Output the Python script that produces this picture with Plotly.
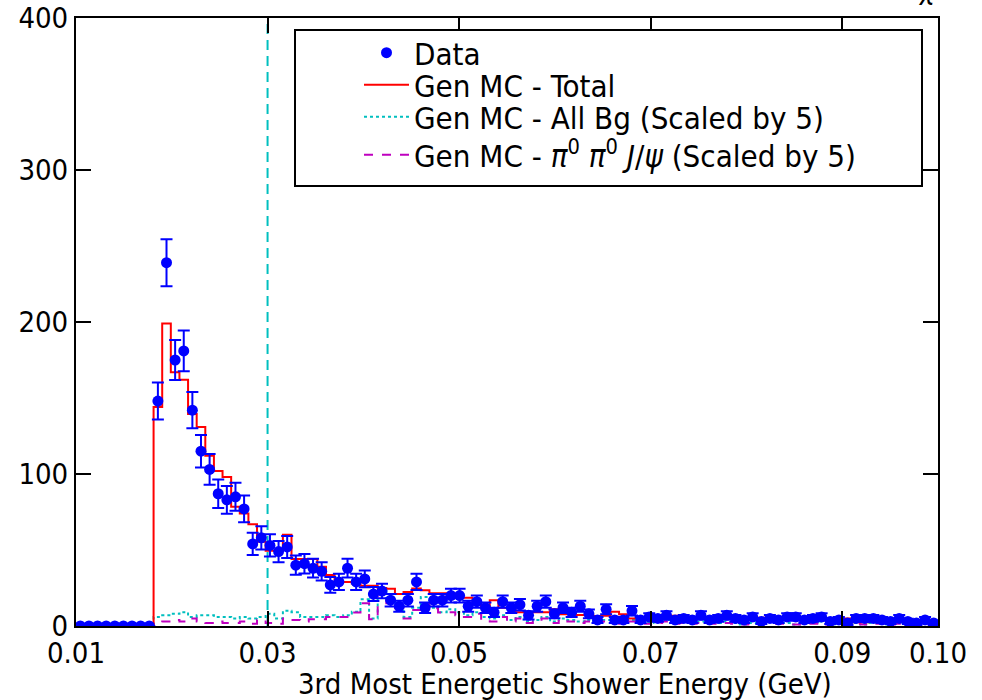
import numpy as np
import plotly.graph_objects as go

# Binning of the shower-energy histograms (GeV)
x_min, x_max, n_bins = 0.01, 0.10, 100
edges = np.linspace(x_min, x_max, n_bins + 1)
centers = 0.5 * (edges[:-1] + edges[1:])

# Observed counts per bin
data_counts = [
    0, 0, 0, 0, 0, 0, 0, 0, 0,
    148, 239, 175, 181, 142, 115, 103, 87, 83, 85, 77,
    54, 58, 53, 49, 52, 40, 41, 38, 36, 27,
    29, 38, 29, 31, 21, 23, 17, 13, 17, 29,
    12, 17, 17, 20, 20, 13, 16, 12, 9, 16,
    12, 14, 7, 13, 16, 8, 12, 9, 13, 8,
    4, 11, 4, 4, 10, 4, 6, 5, 7, 4,
    5, 4, 7, 4, 5, 7, 5, 4, 6, 3,
    5, 4, 6, 6, 4, 5, 6, 3, 4, 2,
    5, 5, 5, 4, 3, 5, 3, 2, 4, 2,
]

# Generic MC, total
mc_total = [
    0, 0, 0, 0, 0, 0, 0, 0, 0,
    144, 199, 167, 162, 139.5, 131, 112, 102, 98, 78.5, 74,
    67, 55.5, 49.5, 49.5, 60, 44, 44, 44, 39, 33.5,
    29, 29, 28, 26.5, 26.5, 25, 24.5, 21, 22.4, 24.6,
    23.5, 21.5, 21.5, 18.6, 18.6, 18.6, 14.3, 13, 17, 12,
    12, 9, 9, 9, 9, 11, 7.7, 9, 7.2, 7.2,
    6.6, 6.8, 9.4, 7.7, 5, 5.7, 5.7, 5.7, 6.8, 6.8,
    4.4, 5.5, 5.5, 5, 5.7, 5.7, 5, 5, 5, 5.5,
    4.4, 4.4, 4, 4, 4, 3.3, 4, 2.9, 2.9, 5,
    2.4, 2.4, 3.3, 3.3, 2.9, 2.9, 3.3, 2.4, 3.5, 2.4,
]

# Generic MC, all background (x5)
mc_all_bg = [
    0, 0, 0, 0, 0, 0, 0, 0, 0,
    6, 7, 8, 9, 6, 7, 7, 6, 6, 5, 6,
    5, 6, 8, 5, 10, 9, 6, 6, 6, 7,
    6, 7, 9.4, 17.6, 5, 23, 18, 13, 6, 12,
    19, 12, 9, 11, 9, 7, 9, 6, 5, 7,
    4, 6, 3, 4, 6, 3, 5, 4, 3, 4,
    3, 4, 3, 2, 4, 3, 2, 3, 4, 2,
    3, 2, 3, 2, 2, 3, 2, 1, 2, 2,
    3, 2, 2, 1, 2, 2, 3, 1, 2, 1,
    2, 1, 2, 2, 1, 2, 1, 1, 2, 1,
]

# Generic MC, pi0 pi0 J/psi component (x5)
mc_pi0pi0jpsi = [
    0, 0, 0, 0, 0, 0, 0, 0, 0,
    1.5, 3, 4, 3, 5, 3, 2, 3, 2, 2, 3,
    1.5, 4, 2, 1.5, 5, 4, 3, 4.4, 4.4, 6,
    6, 6, 8.8, 15, 4.4, 21.5, 15, 11.6, 5, 10.5,
    15, 11.6, 8.8, 9, 7, 6, 8, 4, 3, 6,
    3, 5, 2, 3, 5, 2, 4, 3, 2, 3,
    2, 3, 2, 1.5, 3, 2, 1.5, 2, 3, 1.5,
    2, 1.5, 2, 1.5, 1.5, 2, 1.5, 1, 1.5, 1.5,
    2, 1.5, 1.5, 1, 1.5, 1.5, 2, 1, 1.5, 1,
    1.5, 1, 1.5, 1.5, 1, 1.5, 1, 1, 1.5, 1,
]

x_tick_vals = [0.01, 0.03, 0.05, 0.07, 0.09, 0.10]
x_tick_text = ["0.01", "0.03", "0.05", "0.07", "0.09", "0.10"]
y_tick_vals = [0, 100, 200, 300, 400]
cut_value = 0.03
x_title = "3rd Most Energetic Shower Energy (GeV)"

FONT = "DejaVu Sans Condensed, DejaVu Sans"
W, H = 982, 700
ML, MR, MT, MB = 76, 44, 18, 74
pw, ph = W - ML - MR, H - MT - MB


def px_x(p):
    return (p - ML) / pw


def px_y(p):
    return (H - MB - p) / ph


def step(values):
    """Close a per-bin list so it can be drawn as a step line over bin edges."""
    return list(values) + [values[-1]]


fig = go.Figure()

fig.add_trace(go.Scatter(
    x=edges, y=step(mc_all_bg), mode="lines", line_shape="hv",
    line=dict(color="#00BFBF", width=2, dash="dot"),
    name="Gen MC - All Bg (Scaled by 5)", legend="legend3",
))
fig.add_trace(go.Scatter(
    x=edges, y=step(mc_pi0pi0jpsi), mode="lines", line_shape="hv",
    line=dict(color="#BF00BF", width=2, dash="dash"),
    name="Gen MC - <i>π</i><sup>0</sup> <i>π</i><sup>0</sup> <i>J</i>/<i>ψ</i> (Scaled by 5)",
    legend="legend4",
))
fig.add_trace(go.Scatter(
    x=edges, y=step(mc_total), mode="lines", line_shape="hv",
    line=dict(color="red", width=2),
    name="Gen MC - Total", legend="legend2",
))
fig.add_trace(go.Scatter(
    x=centers, y=data_counts, mode="markers",
    marker=dict(color="blue", size=11),
    error_y=dict(type="data", array=np.sqrt(data_counts), color="blue",
                 thickness=2, width=6),
    name="Data", legend="legend",
))

# Selection cut line
fig.add_shape(type="line", xref="x", yref="paper", x0=cut_value, x1=cut_value,
              y0=0, y1=1, line=dict(color="#00BFBF", width=2, dash="10px,6px"),
              layer="below")

# Legend frame
fig.add_shape(type="rect", xref="paper", yref="paper",
              x0=px_x(295), x1=px_x(922), y0=px_y(186), y1=px_y(30),
              line=dict(color="black", width=2), fillcolor="white", layer="above")

# Partly visible header glyph at the top edge
fig.add_annotation(text="<i>χ</i>", xref="paper", yref="paper",
                   x=px_x(927), y=px_y(8), xanchor="center", yanchor="bottom",
                   showarrow=False, font=dict(family=FONT, size=28, color="black"))

# Axis title
fig.add_annotation(text=x_title, xref="paper", yref="paper",
                   x=px_x(565), y=px_y(684), xanchor="center", yanchor="middle",
                   showarrow=False, font=dict(family=FONT, size=29, color="black"))

axis_common = dict(
    showline=True, linecolor="black", linewidth=2, mirror="ticks",
    ticks="inside", ticklen=15, tickwidth=2, tickcolor="black",
    showgrid=False, zeroline=False, automargin=False,
    tickfont=dict(family=FONT, size=29, color="black"),
)

fig.update_xaxes(range=[x_min, x_max], tickvals=x_tick_vals, ticktext=x_tick_text,
                 **axis_common)
fig.update_yaxes(range=[0, 400], tickvals=y_tick_vals, **axis_common)

# One legend box per entry so each row sits at its own height
legend_rows = {"legend": 53, "legend2": 85, "legend3": 117, "legend4": 155}
legend_layout = {
    key: dict(x=px_x(295), y=px_y(yc), xanchor="left", yanchor="middle",
              bgcolor="rgba(0,0,0,0)", borderwidth=0, indentation=64,
              itemwidth=45, font=dict(family=FONT, size=31, color="black"))
    for key, yc in legend_rows.items()
}

fig.update_layout(
    width=W, height=H, autosize=False,
    margin=dict(l=ML, r=MR, t=MT, b=MB, pad=0),
    plot_bgcolor="white", paper_bgcolor="white",
    font=dict(family=FONT, size=29, color="black"),
    showlegend=True,
    **legend_layout,
)

fig.write_html("out.html")
